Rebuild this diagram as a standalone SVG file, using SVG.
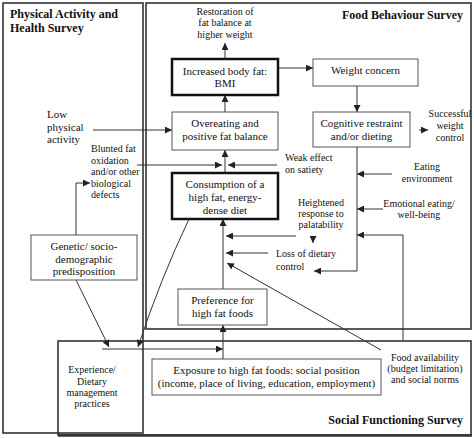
<svg xmlns="http://www.w3.org/2000/svg" width="474" height="438" viewBox="0 0 474 438">
<defs>
<marker id="ah" viewBox="0 0 10 10" refX="10" refY="5" markerWidth="7" markerHeight="7" markerUnits="userSpaceOnUse" orient="auto">
<path d="M0,0 L10,5 L0,10 z" fill="#222"/>
</marker>
<style>
.frame{fill:none;stroke:#333;stroke-width:1.6}
.node{fill:#fff;stroke:#555;stroke-width:1}
.thick{fill:#fff;stroke:#111;stroke-width:2.5}
.t{font-family:"Liberation Serif","Times New Roman",serif;font-size:11px;fill:#111}
.s{font-family:"Liberation Serif","Times New Roman",serif;font-size:10px;fill:#111}
.h{font-family:"Liberation Serif","Times New Roman",serif;font-size:12px;font-weight:bold;fill:#111}
.c{text-anchor:middle}
.e{text-anchor:end}
.ln{fill:none;stroke:#333;stroke-width:1}
.ar{fill:none;stroke:#333;stroke-width:1;marker-end:url(#ah)}
</style>
</defs>
<rect width="474" height="438" fill="#fff"/>

<g id="physical-survey">
<rect class="frame" x="3" y="3" width="140" height="430"/>
<text class="h" x="10" y="18">Physical Activity and</text>
<text class="h" x="10" y="32">Health Survey</text>
</g>
<g id="food-survey">
<rect class="frame" x="146" y="3" width="325" height="326"/>
<text class="h e" x="463" y="19">Food Behaviour Survey</text>
</g>
<g id="social-survey">
<rect class="frame" x="58" y="341" width="413" height="94"/>
<line x1="58" y1="435.5" x2="472" y2="435.5" stroke="#333" stroke-width="2.5"/>
<text class="h e" x="463" y="424">Social Functioning Survey</text>
</g>

<g id="connectors">
<path class="ar" d="M225,59 V43"/>
<path class="ar" d="M225,112 V95"/>
<path class="ar" d="M225,173 V150"/>
<path class="ar" d="M137,165 H222"/>
<path class="ar" d="M277,165 H228"/>
<path class="ar" d="M93,130 H172"/>
<path class="ar" d="M76,235 V183 H90"/>
<path class="ar" d="M278,68 H313"/>
<path class="ar" d="M357,86 V112"/>
<path class="ar" d="M419,130 H428"/>
<path class="ar" d="M357,147 V271 H314"/>
<path class="ar" d="M392,174 H357"/>
<path class="ar" d="M383,209 H357"/>
<path class="ar" d="M403,340 V235 H357"/>
<path class="ar" d="M313,236 V243"/>
<path class="ar" d="M296,236 H226"/>
<path class="ar" d="M268,253 H226"/>
<path class="ar" d="M381,350 L227,263"/>
<path class="ar" d="M223,289 V219"/>
<path class="ar" d="M223,359 V325"/>
<path class="ar" d="M102,349 H223"/>
<path class="ar" d="M76,280 L109,347"/>
<path class="ar" d="M189,219 Q160,280 138,347"/>
</g>

<g id="restoration">
<text class="s c" x="225" y="15">Restoration of</text>
<text class="s c" x="225" y="26">fat balance at</text>
<text class="s c" x="225" y="37.5">higher weight</text>
</g>
<g id="increased-body-fat">
<rect class="thick" x="172" y="59" width="106" height="36"/>
<text class="t c" x="225" y="74.5">Increased body fat:</text>
<text class="t c" x="225" y="87">BMI</text>
</g>
<g id="overeating">
<rect class="node" x="172" y="112" width="106" height="38"/>
<text class="t c" x="225" y="126.5">Overeating and</text>
<text class="t c" x="225" y="140">positive fat balance</text>
</g>
<g id="consumption">
<rect class="thick" x="172" y="173" width="106" height="46"/>
<text class="t c" x="225" y="188">Consumption of a</text>
<text class="t c" x="225" y="201">high fat, energy-</text>
<text class="t c" x="225" y="214">dense diet</text>
</g>
<g id="preference">
<rect class="node" x="178" y="289" width="89" height="36"/>
<text class="t c" x="222.5" y="304">Preference for</text>
<text class="t c" x="222.5" y="316.5">high fat foods</text>
</g>
<g id="weight-concern">
<rect class="node" x="313" y="59" width="105" height="27"/>
<text class="t c" x="365.5" y="74">Weight concern</text>
</g>
<g id="cognitive-restraint">
<rect class="node" x="313" y="112" width="97" height="35"/>
<text class="t c" x="361.5" y="127">Cognitive restraint</text>
<text class="t c" x="361.5" y="139.5">and/or dieting</text>
</g>
<g id="successful-weight-control">
<text class="s c" x="450" y="117">Successful</text>
<text class="s c" x="450" y="129">weight</text>
<text class="s c" x="450" y="140.5">control</text>
</g>
<g id="low-physical-activity">
<text class="t" x="47" y="118">Low</text>
<text class="t" x="47" y="131">physical</text>
<text class="t" x="47" y="143">activity</text>
</g>
<g id="blunted-fat-oxidation">
<text class="s" x="91" y="152">Blunted fat</text>
<text class="s" x="91" y="163.5">oxidation</text>
<text class="s" x="91" y="175">and/or other</text>
<text class="s" x="91" y="186.5">biological</text>
<text class="s" x="91" y="198">defects</text>
</g>
<g id="weak-effect">
<text class="s" x="285" y="161">Weak effect</text>
<text class="s" x="285" y="173">on satiety</text>
</g>
<g id="eating-environment">
<text class="s c" x="427" y="170">Eating</text>
<text class="s c" x="427" y="182">environment</text>
</g>
<g id="emotional-eating">
<text class="s c" x="419" y="207">Emotional eating/</text>
<text class="s c" x="419" y="218">well-being</text>
</g>
<g id="heightened-response">
<text class="s c" x="321" y="206">Heightened</text>
<text class="s c" x="321" y="217">response to</text>
<text class="s c" x="321" y="228">palatability</text>
</g>
<g id="loss-of-dietary-control">
<text class="s" x="276" y="257">Loss of dietary</text>
<text class="s" x="276" y="269.5">control</text>
</g>
<g id="genetic">
<rect class="node" x="31" y="235" width="106" height="45"/>
<text class="t c" x="84" y="250">Genetic/ socio-</text>
<text class="t c" x="84" y="262.5">demographic</text>
<text class="t c" x="84" y="275">predisposition</text>
</g>
<g id="experience">
<text class="s c" x="92" y="373">Experience/</text>
<text class="s c" x="92" y="384.5">Dietary</text>
<text class="s c" x="92" y="396">management</text>
<text class="s c" x="92" y="407">practices</text>
</g>
<g id="exposure">
<rect class="node" x="152" y="359" width="229" height="36"/>
<text class="t c" x="266.5" y="374">Exposure to high fat foods: social position</text>
<text class="t c" x="266.5" y="387">(income, place of living, education, employment)</text>
</g>
<g id="food-availability">
<text class="s c" x="425" y="361">Food availability</text>
<text class="s c" x="425" y="372">(budget limitation)</text>
<text class="s c" x="425" y="383">and social norms</text>
</g>
</svg>
